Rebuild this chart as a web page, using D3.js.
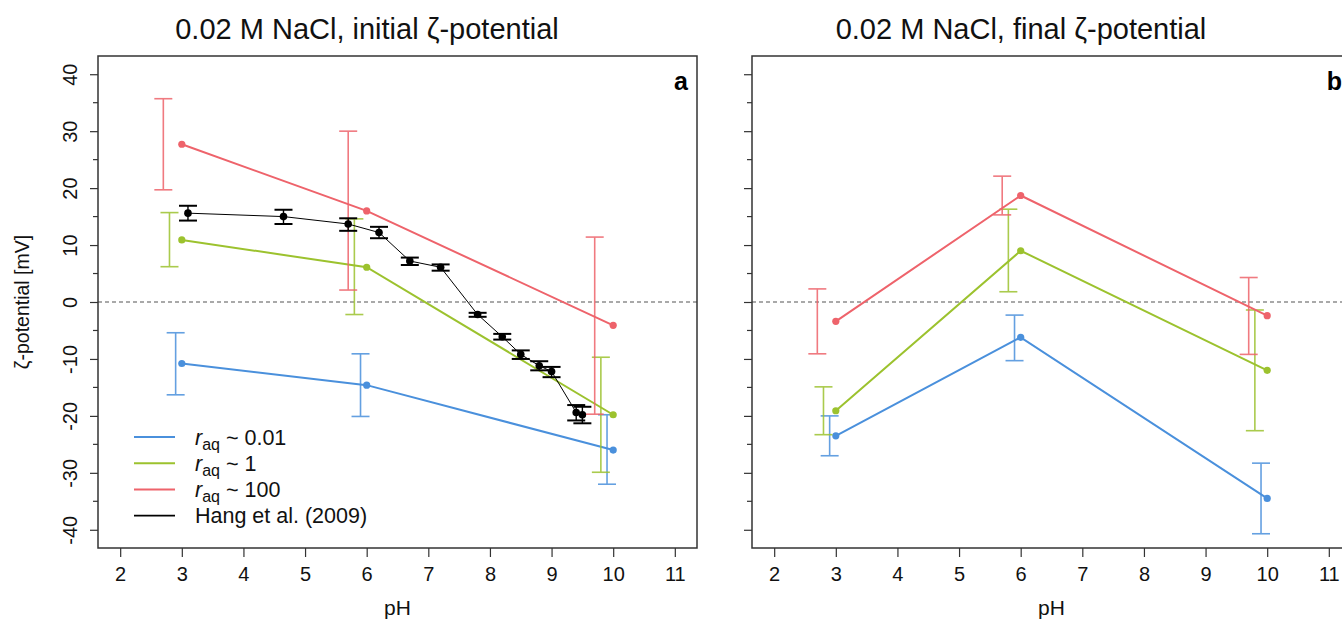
<!DOCTYPE html>
<html>
<head>
<meta charset="utf-8">
<script src="https://cdn.jsdelivr.net/npm/d3@7"></script>
<style>
  html, body { margin: 0; padding: 0; background: #fff; }
  svg { display: block; font-family: "Liberation Sans", Arial, sans-serif; }
</style>
</head>
<body>
<svg id="chart" width="1342" height="620"></svg>
<script>
// pH values of the model runs
const phModel = [3, 6, 10];

// Initial zeta-potential (mV): mean, upper and lower error limits
const initLowMean = [-10.8, -14.6, -26.0];
const initLowHi   = [-5.4, -9.1, -19.8];
const initLowLo   = [-16.3, -20.1, -32.0];
const initMidMean = [10.9, 6.1, -19.8];
const initMidHi   = [15.7, 14.6, -9.7];
const initMidLo   = [6.2, -2.2, -29.9];
const initHighMean = [27.7, 16.0, -4.1];
const initHighHi   = [35.7, 30.0, 11.4];
const initHighLo   = [19.7, 2.1, -19.7];

// Final zeta-potential (mV)
const finalLowMean = [-23.5, -6.2, -34.5];
const finalLowHi   = [-20.0, -2.3, -28.3];
const finalLowLo   = [-27.0, -10.3, -40.7];
const finalMidMean = [-19.1, 9.0, -12.0];
const finalMidHi   = [-14.9, 16.3, -1.4];
const finalMidLo   = [-23.3, 1.8, -22.6];
const finalHighMean = [-3.4, 18.7, -2.4];
const finalHighHi   = [2.3, 22.1, 4.3];
const finalHighLo   = [-9.1, 15.3, -9.2];

// Hang et al. (2009) measurements
const hangPH   = [3.1, 4.65, 5.7, 6.2, 6.7, 7.2, 7.8, 8.2, 8.5, 8.8, 9.0, 9.4, 9.5];
const hangZeta = [15.6, 15.0, 13.7, 12.2, 7.2, 6.1, -2.2, -6.1, -9.2, -11.2, -12.2, -19.4, -19.8];
const hangHi   = [16.9, 16.2, 14.7, 13.2, 7.8, 6.6, -1.9, -5.6, -8.5, -10.4, -11.4, -18.1, -18.4];
const hangLo   = [14.3, 13.7, 12.5, 11.2, 6.5, 5.5, -2.6, -6.6, -10.0, -12.0, -13.2, -20.8, -21.3];

// Axis ticks
const xTicks = [2, 3, 4, 5, 6, 7, 8, 9, 10, 11];
const yTicks = [40, 30, 20, 10, 0, -10, -20, -30, -40];
const yMinorTicks = [35, 25, 15, 5, -5, -15, -25, -35];

// Series definitions (legend labels, colours, error-bar x offset in pH units)
const seriesNames = ["0.01", "1", "100"];
const seriesColors = ["#4a90dc", "#9cc22e", "#ee636b"];
const seriesOffsets = [-0.1, -0.2, -0.3];

const panels = [
  { title: "0.02 M NaCl, initial \u03b6-potential", tag: "a", left: 98, titleX: 367, yLabels: true,
    series: [[initLowMean, initLowHi, initLowLo], [initMidMean, initMidHi, initMidLo], [initHighMean, initHighHi, initHighLo]],
    hang: true, legend: true },
  { title: "0.02 M NaCl, final \u03b6-potential", tag: "b", left: 752, titleX: 1021, yLabels: false,
    series: [[finalLowMean, finalLowHi, finalLowLo], [finalMidMean, finalMidHi, finalMidLo], [finalHighMean, finalHighHi, finalHighLo]],
    hang: false, legend: false }
];

const svg = d3.select("#chart");
const boxTop = 56, boxBottom = 548, boxWidth = 599;
const axisColor = "#333";
const capHalf = 9;
const plainNumber = d => String(d);

// y-axis label
svg.append("text")
  .attr("transform", `translate(29,302) rotate(-90)`)
  .attr("text-anchor", "middle")
  .attr("font-size", 19.5)
  .attr("fill", "#111")
  .text("\u03b6-potential [mV]");

panels.forEach(p => {
  const x = d3.scaleLinear().domain([1.64, 11.36]).range([p.left, p.left + boxWidth]);
  const y = d3.scaleLinear().domain([-43.2, 43.2]).range([boxBottom, boxTop]);
  const g = svg.append("g");

  // title
  g.append("text")
    .attr("x", p.titleX).attr("y", 39)
    .attr("text-anchor", "middle")
    .attr("font-size", 29)
    .attr("fill", "#111")
    .text(p.title);

  // zero reference line
  g.append("line")
    .attr("x1", p.left).attr("x2", p.left + boxWidth)
    .attr("y1", y(0)).attr("y2", y(0))
    .attr("stroke", "#555").attr("stroke-width", 1.2)
    .attr("stroke-dasharray", "4,3");

  // x axis
  const xAxis = g.append("g")
    .attr("transform", `translate(0,${boxBottom})`)
    .call(d3.axisBottom(x).tickValues(xTicks).tickSize(9).tickPadding(10).tickFormat(plainNumber));
  xAxis.select(".domain").remove();
  xAxis.selectAll("line").attr("stroke", axisColor).attr("stroke-width", 1.2);
  xAxis.selectAll("text").attr("font-size", 20).attr("fill", "#111")
    .attr("font-family", "Liberation Sans, Arial, sans-serif");

  g.append("text")
    .attr("x", x(6.5)).attr("y", 615)
    .attr("text-anchor", "middle")
    .attr("font-size", 21)
    .attr("fill", "#111")
    .text("pH");

  // y axis: major and minor ticks
  const yAxis = g.append("g")
    .attr("transform", `translate(${p.left},0)`)
    .call(d3.axisLeft(y).tickValues(yTicks).tickSize(8).tickPadding(6)
      .tickFormat(p.yLabels ? plainNumber : () => ""));
  yAxis.select(".domain").remove();
  yAxis.selectAll("line").attr("stroke", axisColor).attr("stroke-width", 1.2);
  yAxis.selectAll("text")
    .attr("font-size", 20).attr("fill", "#111")
    .attr("font-family", "Liberation Sans, Arial, sans-serif")
    .attr("text-anchor", "middle")
    .attr("x", null)
    .attr("transform", "translate(-28,0) rotate(-90)")
    .attr("dy", "0.35em");

  g.selectAll(".minor")
    .data(yMinorTicks).enter().append("line")
    .attr("x1", p.left - 5).attr("x2", p.left)
    .attr("y1", d => y(d)).attr("y2", d => y(d))
    .attr("stroke", axisColor).attr("stroke-width", 1.2);

  // model series
  p.series.forEach((s, i) => {
    const [mean, hi, lo] = s;
    const col = seriesColors[i];
    const pts = phModel.map((ph, k) => ({ ph, v: mean[k], hi: hi[k], lo: lo[k] }));

    const eb = g.append("g").attr("stroke", col).attr("stroke-width", 1.6).attr("opacity", 0.85);
    pts.forEach(d => {
      const ex = x(d.ph + seriesOffsets[i]);
      eb.append("line").attr("x1", ex).attr("x2", ex).attr("y1", y(d.hi)).attr("y2", y(d.lo));
      eb.append("line").attr("x1", ex - capHalf).attr("x2", ex + capHalf).attr("y1", y(d.hi)).attr("y2", y(d.hi));
      eb.append("line").attr("x1", ex - capHalf).attr("x2", ex + capHalf).attr("y1", y(d.lo)).attr("y2", y(d.lo));
    });

    g.append("path")
      .datum(pts)
      .attr("fill", "none").attr("stroke", col).attr("stroke-width", 2)
      .attr("d", d3.line().x(d => x(d.ph)).y(d => y(d.v)));

    g.selectAll(null).data(pts).enter().append("circle")
      .attr("cx", d => x(d.ph)).attr("cy", d => y(d.v)).attr("r", 3.6)
      .attr("fill", col);
  });

  // measured data
  if (p.hang) {
    const hp = hangPH.map((ph, k) => ({ ph, v: hangZeta[k], hi: hangHi[k], lo: hangLo[k] }));
    const hb = g.append("g").attr("stroke", "#000").attr("stroke-width", 1.4);
    hp.forEach(d => {
      const ex = x(d.ph);
      hb.append("line").attr("x1", ex).attr("x2", ex).attr("y1", y(d.hi)).attr("y2", y(d.lo));
      hb.append("line").attr("x1", ex - capHalf).attr("x2", ex + capHalf).attr("y1", y(d.hi)).attr("y2", y(d.hi)).attr("stroke-width", 2);
      hb.append("line").attr("x1", ex - capHalf).attr("x2", ex + capHalf).attr("y1", y(d.lo)).attr("y2", y(d.lo)).attr("stroke-width", 2);
    });
    g.append("path")
      .datum(hp)
      .attr("fill", "none").attr("stroke", "#000").attr("stroke-width", 1)
      .attr("d", d3.line().x(d => x(d.ph)).y(d => y(d.v)));
    g.selectAll(null).data(hp).enter().append("circle")
      .attr("cx", d => x(d.ph)).attr("cy", d => y(d.v)).attr("r", 3.8)
      .attr("fill", "#000");
  }

  // plot frame
  g.append("rect")
    .attr("x", p.left).attr("y", boxTop)
    .attr("width", boxWidth).attr("height", boxBottom - boxTop)
    .attr("fill", "none").attr("stroke", axisColor).attr("stroke-width", 1.5);

  // panel tag
  g.append("text")
    .attr("x", p.left + boxWidth - 9).attr("y", 90)
    .attr("text-anchor", "end")
    .attr("font-size", 25).attr("font-weight", "bold")
    .attr("fill", "#000")
    .text(p.tag);

  // legend
  if (p.legend) {
    const items = seriesNames.map((n, i) => ({ n, col: seriesColors[i], r: true }))
      .concat([{ n: "Hang et al. (2009)", col: "#000", r: false }]);
    const lg = g.append("g");
    items.forEach((it, k) => {
      const ly = 437 + k * 26.2;
      lg.append("line")
        .attr("x1", 134).attr("x2", 175).attr("y1", ly).attr("y2", ly)
        .attr("stroke", it.col).attr("stroke-width", it.r ? 2 : 1.6);
      const t = lg.append("text")
        .attr("x", 195).attr("y", ly + 7.5)
        .attr("font-size", 21.5).attr("fill", "#111");
      if (it.r) {
        t.append("tspan").attr("font-style", "italic").text("r");
        t.append("tspan").attr("font-size", 16).attr("dy", 5).text("aq");
        t.append("tspan").attr("dy", -5).text(" ~ " + it.n);
      } else {
        t.text(it.n);
      }
    });
  }
});
</script>
</body>
</html>
